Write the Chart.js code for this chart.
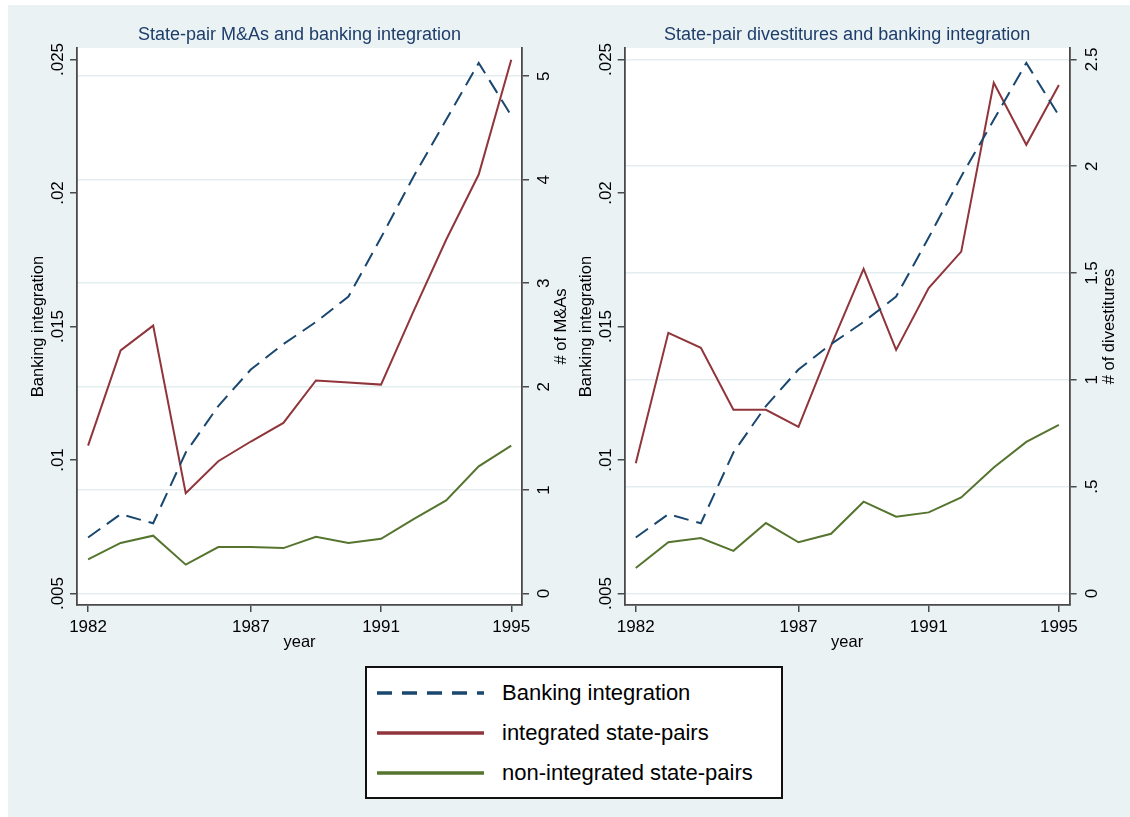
<!DOCTYPE html>
<html>
<head>
<meta charset="utf-8">
<script src="https://cdn.jsdelivr.net/npm/chart.js@4.4.0/dist/chart.umd.min.js"></script>
<style>
  body { margin: 0; background: #fff; width: 1130px; height: 817px; position: relative; overflow: hidden;
         font-family: "Liberation Sans", Arial, sans-serif; }
  #bg { position: absolute; left: 8px; top: 5px; width: 1122px; height: 812px; background: #eaf2f3; }
  canvas { position: absolute; top: 0; }
  #c1 { left: 0; }
  #c2 { left: 572px; }
  #legend { position: absolute; left: 365px; top: 666px; width: 418px; height: 133px; box-sizing: border-box;
            border: 2px solid #111; background: #fff; }
  .row { position: absolute; left: 0; width: 100%; height: 26px; }
  .row svg { position: absolute; left: 10px; top: 0; }
  .row span { position: absolute; left: 135px; top: 0; line-height: 26px; font-size: 22px; color: #000; white-space: nowrap; }
</style>
</head>
<body>
<div id="bg"></div>
<canvas id="c1" width="572" height="660"></canvas>
<canvas id="c2" width="558" height="660"></canvas>
<div id="legend">
  <div class="row" style="top:11.5px">
    <svg width="108" height="26"><line x1="0" y1="13" x2="107" y2="13" stroke="#1a476f" stroke-width="3.5" stroke-dasharray="15 10"/></svg>
    <span>Banking integration</span>
  </div>
  <div class="row" style="top:51.5px">
    <svg width="108" height="26"><line x1="0" y1="13" x2="107" y2="13" stroke="#90353b" stroke-width="3.5"/></svg>
    <span>integrated state-pairs</span>
  </div>
  <div class="row" style="top:92px">
    <svg width="108" height="26"><line x1="0" y1="13" x2="107" y2="13" stroke="#55752f" stroke-width="3.5"/></svg>
    <span>non-integrated state-pairs</span>
  </div>
</div>
<script>
// *** Data
const years = [1982, 1983, 1984, 1985, 1986, 1987, 1988, 1989, 1990, 1991, 1992, 1993, 1994, 1995];
const bankingIntegration = [0.0071, 0.00797, 0.00763, 0.01028, 0.01202, 0.01339, 0.01434, 0.01517, 0.01612, 0.01833, 0.02062, 0.02274, 0.02487, 0.0229];
const maIntegrated = [1.43, 2.35, 2.59, 0.97, 1.28, 1.47, 1.65, 2.06, 2.04, 2.02, 2.73, 3.42, 4.05, 5.16];
const maNonIntegrated = [0.33, 0.49, 0.56, 0.28, 0.45, 0.45, 0.44, 0.55, 0.49, 0.53, 0.72, 0.9, 1.23, 1.43];
const divIntegrated = [0.61, 1.22, 1.15, 0.86, 0.86, 0.78, 1.16, 1.52, 1.14, 1.43, 1.6, 2.39, 2.1, 2.38];
const divNonIntegrated = [0.12, 0.24, 0.26, 0.2, 0.33, 0.24, 0.28, 0.43, 0.36, 0.38, 0.45, 0.59, 0.71, 0.79];

const xTicks = [1982, 1987, 1991, 1995];
const leftTicks = [0.005, 0.01, 0.015, 0.02, 0.025];
const leftTickLabels = [".005", ".01", ".015", ".02", ".025"];
const maTicks = [0, 1, 2, 3, 4, 5];
const maTickLabels = ["0", "1", "2", "3", "4", "5"];
const divTicks = [0, 0.5, 1, 1.5, 2, 2.5];
const divTickLabels = ["0", ".5", "1", "1.5", "2", "2.5"];

const FONT = '"Liberation Sans", Arial, sans-serif';
const navy = "#1a476f", maroon = "#90353b", green = "#55752f";
const axisCol = "#4a4a4a", gridCol = "#e3edf0", titleCol = "#1e3d6b";

const panelPlugin = (o) => ({
  id: "panel",
  beforeDraw(chart) {
    const { ctx, chartArea: a } = chart;
    ctx.save();
    ctx.fillStyle = "#fff";
    ctx.fillRect(a.left, a.top, a.right - a.left, a.bottom - a.top);
    ctx.restore();
  },
  afterDraw(chart) {
    const { ctx, chartArea: a, scales } = chart;
    const vtext = (txt, x, y) => {
      ctx.save();
      ctx.translate(x, y);
      ctx.rotate(-Math.PI / 2);
      ctx.fillText(txt, 0, 0);
      ctx.restore();
    };
    const midX = (a.left + a.right) / 2, midY = (a.top + a.bottom) / 2;
    ctx.save();
    ctx.fillStyle = "#000";
    ctx.textAlign = "center";
    ctx.textBaseline = "alphabetic";
    ctx.font = "17px " + FONT;
    xTicks.forEach((v) => ctx.fillText(String(v), scales.x.getPixelForValue(v), a.bottom + 27));
    leftTicks.forEach((v, i) => vtext(leftTickLabels[i], a.left - 14, scales.y.getPixelForValue(v)));
    o.rTicks.forEach((v, i) => vtext(o.rLabels[i], a.right + 27, scales.y1.getPixelForValue(v)));
    ctx.font = "16.5px " + FONT;
    vtext("Banking integration", a.left - 34, midY);
    vtext(o.rightTitle, a.right + 44, midY);
    ctx.fillText("year", midX, a.bottom + 41.5);
    ctx.font = "18px " + FONT;
    ctx.fillStyle = titleCol;
    ctx.fillText(o.title, midX, 40.3);
    ctx.restore();
  },
});

const makeChart = (id, o) => {
  const pt = (vals) => years.map((yr, i) => ({ x: yr, y: vals[i] }));
  const setTicks = (vals) => (s) => { s.ticks = vals.map((v) => ({ value: v })); };
  return new Chart(document.getElementById(id), {
    type: "line",
    data: {
      datasets: [
        { label: "Banking integration", data: pt(bankingIntegration), yAxisID: "y",
          borderColor: navy, borderWidth: 2, borderDash: [15, 8] },
        { label: "integrated state-pairs", data: pt(o.integrated), yAxisID: "y1",
          borderColor: maroon, borderWidth: 2 },
        { label: "non-integrated state-pairs", data: pt(o.nonIntegrated), yAxisID: "y1",
          borderColor: green, borderWidth: 2 },
      ],
    },
    options: {
      responsive: false,
      animation: false,
      elements: { point: { radius: 0 }, line: { tension: 0 } },
      layout: { padding: { top: 48, left: 0, right: 0, bottom: 0 } },
      plugins: { legend: { display: false }, tooltip: { enabled: false } },
      scales: {
        x: {
          type: "linear", bounds: "data", min: 1981.66, max: 1995.33,
          afterBuildTicks: setTicks(xTicks),
          afterFit: (s) => { s.height = 55; },
          ticks: { display: false },
          grid: { drawOnChartArea: false, tickLength: 7, tickColor: axisCol, lineWidth: 1.5 },
          border: { color: axisCol, width: 1.8 },
        },
        y: {
          position: "left", bounds: "data", min: 0.00457, max: 0.02543,
          afterBuildTicks: setTicks(leftTicks),
          afterFit: (s) => { s.width = o.leftW; },
          ticks: { display: false },
          grid: { drawOnChartArea: false, tickLength: 7, tickColor: axisCol, lineWidth: 1.5 },
          border: { color: axisCol, width: 1.8 },
        },
        y1: {
          position: "right", bounds: "data", min: o.rMin, max: o.rMax,
          afterBuildTicks: setTicks(o.rTicks),
          afterFit: (s) => { s.width = o.rightW; },
          ticks: { display: false },
          grid: { color: gridCol, lineWidth: 1.5, tickLength: 7, tickColor: axisCol },
          border: { color: axisCol, width: 1.8 },
        },
      },
    },
    plugins: [panelPlugin(o)],
  });
};

makeChart("c1", {
  title: "State-pair M&As and banking integration",
  rightTitle: "# of M&As",
  integrated: maIntegrated, nonIntegrated: maNonIntegrated,
  rTicks: maTicks, rLabels: maTickLabels, rMin: -0.11, rMax: 5.273,
  leftW: 77, rightW: 50,
});

makeChart("c2", {
  title: "State-pair divestitures and banking integration",
  rightTitle: "# of divestitures",
  integrated: divIntegrated, nonIntegrated: divNonIntegrated,
  rTicks: divTicks, rLabels: divTickLabels, rMin: -0.0534, rMax: 2.553,
  leftW: 52.7, rightW: 60.4,
});
</script>
</body>
</html>
